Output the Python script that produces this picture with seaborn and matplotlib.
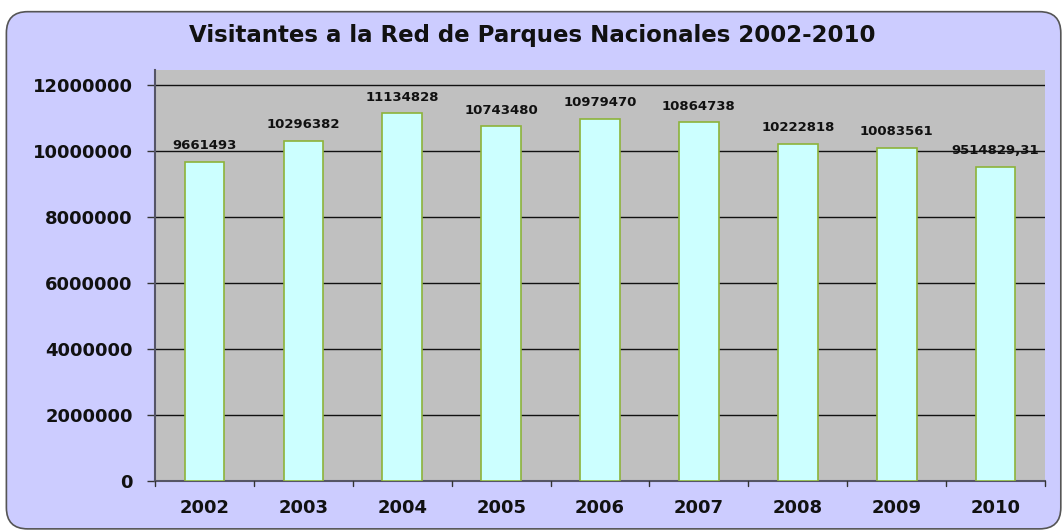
import matplotlib
matplotlib.use('Agg')
import matplotlib.pyplot as plt
import seaborn as sns
import pandas as pd
from matplotlib.patches import FancyBboxPatch

# ---------- datos ----------
years = ['2002', '2003', '2004', '2005', '2006', '2007', '2008', '2009', '2010']
visitors = [9661493, 10296382, 11134828, 10743480, 10979470, 10864738, 10222818, 10083561, 9514829.31]
labels = ['9661493', '10296382', '11134828', '10743480', '10979470', '10864738', '10222818', '10083561', '9514829,31']
yticks = [0, 2000000, 4000000, 6000000, 8000000, 10000000, 12000000]

df = pd.DataFrame({'Año': years, 'Visitantes': visitors})

sns.set_theme(style='white')
plt.rcParams['font.family'] = ['DejaVu Sans']

fig = plt.figure(figsize=(10.64, 5.31), dpi=100)
fig.patch.set_facecolor('white')

# marco redondeado lavanda
frame = FancyBboxPatch((0.006, 0.004), 0.991, 0.974, boxstyle='round,pad=0,rounding_size=0.02',
                       transform=fig.transFigure, facecolor='#CCCCFF', edgecolor='#555555',
                       linewidth=1.2, mutation_aspect=2.0, zorder=-10)
fig.patches.append(frame)

ax = fig.add_axes([0.1457, 0.0942, 0.8365, 0.7740])
ax.set_zorder(5)
ax.set_facecolor('#C0C0C0')

sns.barplot(data=df, x='Año', y='Visitantes', ax=ax, width=0.4, color='#CCFFFF',
            edgecolor='#8DB33A', linewidth=1.2, saturation=1, zorder=3)

ax.set_ylim(0, 12450000)
ax.set_xlim(-0.5, len(years) - 0.5)
ax.set_yticks(yticks)
ax.set_yticklabels([str(t) for t in yticks], fontsize=13, fontweight='bold', color='#111111')
ax.set_xticks(range(len(years)))
ax.set_xticklabels(years, fontsize=13, fontweight='bold', color='#111111')
ax.set_xlabel('')
ax.set_ylabel('')

for y in yticks[1:]:
    ax.axhline(y, color='#111111', linewidth=1.0, zorder=1)

# marcas de eje
ax.tick_params(axis='y', direction='out', length=6, width=1, color='#333333', pad=10, left=True)
ax.tick_params(axis='x', length=0, pad=13, bottom=False)
for i in range(len(years) + 1):
    ax.plot([i - 0.5, i - 0.5], [0, -160000], color='#333333', linewidth=1, clip_on=False, zorder=4)

for s in ['top', 'right']:
    ax.spines[s].set_visible(False)
ax.spines['left'].set_color('#555566')
ax.spines['left'].set_linewidth(1.5)
ax.spines['bottom'].set_color('#555566')
ax.spines['bottom'].set_linewidth(1.5)

for i, (v, lab) in enumerate(zip(visitors, labels)):
    ax.annotate(lab, (i, v), xytext=(0, 7), textcoords='offset points', ha='center', va='bottom',
                fontsize=9.5, fontweight='bold', color='#111111', zorder=5)

fig.text(0.5, 0.9215, 'Visitantes a la Red de Parques Nacionales 2002-2010', ha='center', va='baseline',
         fontsize=16.5, fontweight='bold', color='#111111')

fig.savefig('out.png', dpi=100, facecolor=fig.get_facecolor())
